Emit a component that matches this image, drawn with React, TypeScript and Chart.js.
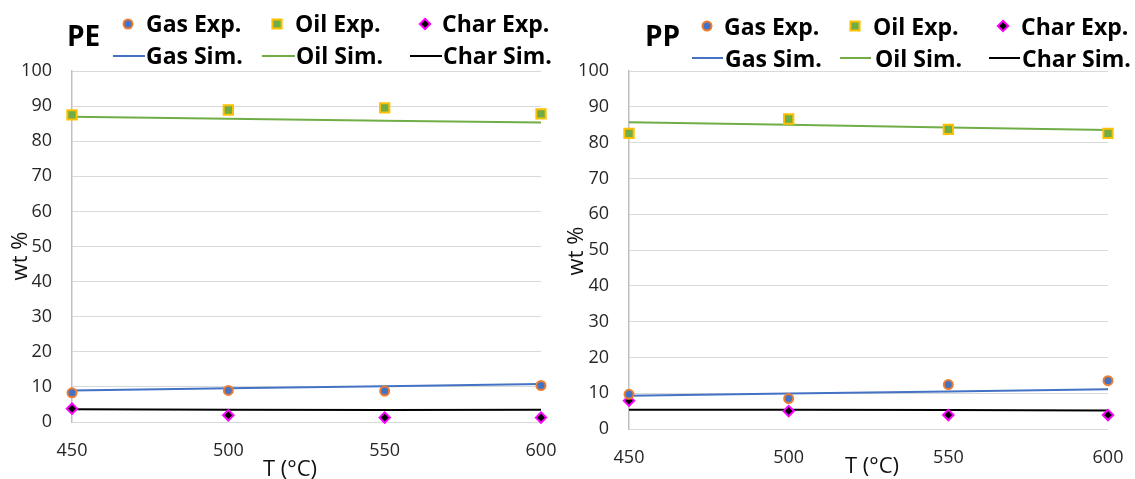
import React, { useEffect, useRef } from "react";
import { Chart, registerables } from "chart.js";
Chart.register(...registerables);

// ---- data ----
const temps = [450, 500, 550, 600];
const yMin = 0;
const yMax = 100;
const yStep = 10;
const xStep = 50;
const legendLabels = ["Gas Exp.", "Oil Exp.", "Char Exp.", "Gas Sim.", "Oil Sim.", "Char Sim."];

const peGasExp = [8.3, 9.0, 8.8, 10.4];
const peOilExp = [87.5, 88.9, 89.5, 87.8];
const peCharExp = [3.8, 1.9, 1.25, 1.25];
const peGasSim = [9.0, 9.6, 10.2, 10.8];
const peOilSim = [87.0, 86.4, 85.8, 85.3];
const peCharSim = [3.6, 3.5, 3.4, 3.5];

const ppGasExp = [9.7, 8.5, 12.4, 13.5];
const ppOilExp = [82.6, 86.6, 83.7, 82.6];
const ppCharExp = [7.9, 5.0, 3.9, 3.9];
const ppGasSim = [9.3, 9.9, 10.5, 11.1];
const ppOilSim = [85.7, 85.0, 84.2, 83.5];
const ppCharSim = [5.4, 5.4, 5.3, 5.2];

// ---- styles ----
const BLUE = "#4472C4";
const ORANGE = "#ED7D31";
const GREEN = "#70AD47";
const GOLD = "#FFC000";
const MAGENTA = "#FF00FF";
const BLACK = "#000000";
const FONT = '"Open Sans", sans-serif';
const TICK_COLOR = "#262626";

type Spec = {
  title: string;
  canvasLeft: number;
  width: number;
  area: { left: number; right: number; top: number; bottom: number };
  gasExp: number[]; oilExp: number[]; charExp: number[];
  gasSim: number[]; oilSim: number[]; charSim: number[];
  titlePos: [number, number];
  row1: { y: number; base: number; markers: number[]; texts: number[] };
  row2: { y: number; base: number; lines: [number, number][]; texts: number[] };
  yTitle: [number, number];
  xTitle: [number, number];
};

const H = 479;

const SPECS: Spec[] = [
  {
    title: "PE",
    canvasLeft: 0,
    width: 565,
    area: { left: 72, right: 541, top: 71, bottom: 422 },
    gasExp: peGasExp, oilExp: peOilExp, charExp: peCharExp,
    gasSim: peGasSim, oilSim: peOilSim, charSim: peCharSim,
    titlePos: [67, 46],
    row1: { y: 24, base: 32, markers: [128, 277, 425], texts: [146, 295, 442] },
    row2: { y: 56, base: 64, lines: [[113, 145], [262, 295], [410, 442]], texts: [146, 296, 443] },
    yTitle: [21, 256],
    xTitle: [290, 470],
  },
  {
    title: "PP",
    canvasLeft: 565,
    width: 570,
    area: { left: 64, right: 543, top: 71, bottom: 429 },
    gasExp: ppGasExp, oilExp: ppOilExp, charExp: ppCharExp,
    gasSim: ppGasSim, oilSim: ppOilSim, charSim: ppCharSim,
    titlePos: [80, 46],
    row1: { y: 26, base: 35, markers: [142, 290, 438], texts: [159, 308, 456] },
    row2: { y: 58, base: 67, lines: [[127, 158], [275, 306], [424, 455]], texts: [160, 310, 457] },
    yTitle: [12, 251],
    xTitle: [307, 467],
  },
];

const toXY = (vals: number[]) => vals.map((v, i) => ({ x: temps[i], y: v }));

function drawCircle(ctx: CanvasRenderingContext2D, x: number, y: number) {
  ctx.beginPath();
  ctx.arc(x, y, 4.5, 0, Math.PI * 2);
  ctx.fillStyle = BLUE;
  ctx.fill();
  ctx.lineWidth = 2;
  ctx.strokeStyle = ORANGE;
  ctx.stroke();
}
function drawSquare(ctx: CanvasRenderingContext2D, x: number, y: number) {
  const s = 4.6;
  ctx.beginPath();
  ctx.rect(x - s, y - s, 2 * s, 2 * s);
  ctx.fillStyle = GREEN;
  ctx.fill();
  ctx.lineWidth = 2;
  ctx.strokeStyle = GOLD;
  ctx.stroke();
}
function drawDiamond(ctx: CanvasRenderingContext2D, x: number, y: number) {
  const r = 5.2;
  ctx.beginPath();
  ctx.moveTo(x, y - r);
  ctx.lineTo(x + r, y);
  ctx.lineTo(x, y + r);
  ctx.lineTo(x - r, y);
  ctx.closePath();
  ctx.fillStyle = BLACK;
  ctx.fill();
  ctx.lineWidth = 2;
  ctx.strokeStyle = MAGENTA;
  ctx.stroke();
}

function overlay(spec: Spec) {
  return {
    id: "overlay" + spec.title,
    afterDraw(chart: any) {
      const ctx: CanvasRenderingContext2D = chart.ctx;
      ctx.save();
      ctx.textBaseline = "alphabetic";
      ctx.textAlign = "left";
      ctx.fillStyle = "#000";
      ctx.font = `bold 28px ${FONT}`;
      ctx.fillText(spec.title, spec.titlePos[0], spec.titlePos[1]);

      const markerFns = [drawCircle, drawSquare, drawDiamond];
      ctx.font = `bold 23px ${FONT}`;
      for (let i = 0; i < 3; i++) {
        markerFns[i](ctx, spec.row1.markers[i], spec.row1.y);
        ctx.fillStyle = "#000";
        ctx.fillText(legendLabels[i], spec.row1.texts[i], spec.row1.base);
      }
      const lineColors = [BLUE, GREEN, BLACK];
      for (let i = 0; i < 3; i++) {
        const [a, b] = spec.row2.lines[i];
        ctx.beginPath();
        ctx.moveTo(a, spec.row2.y);
        ctx.lineTo(b, spec.row2.y);
        ctx.strokeStyle = lineColors[i];
        ctx.lineWidth = 2;
        ctx.stroke();
        ctx.fillStyle = "#000";
        ctx.fillText(legendLabels[i + 3], spec.row2.texts[i], spec.row2.base);
      }

      ctx.font = `22px ${FONT}`;
      ctx.fillStyle = "#111";
      ctx.textAlign = "center";
      ctx.textBaseline = "middle";
      ctx.fillText("T (°C)", spec.xTitle[0], spec.xTitle[1]);
      ctx.save();
      ctx.translate(spec.yTitle[0], spec.yTitle[1]);
      ctx.rotate(-Math.PI / 2);
      ctx.fillText("wt %", 0, 0);
      ctx.restore();
      ctx.restore();
    },
  };
}

function makeConfig(spec: Spec): any {
  const expCommon = { showLine: false, clip: false, pointBorderWidth: 2, pointHoverRadius: 0 };
  const simCommon = { showLine: true, clip: false, pointRadius: 0, borderWidth: 2, fill: false, tension: 0 };
  return {
    type: "scatter",
    data: {
      datasets: [
        { label: legendLabels[0], data: toXY(spec.gasExp), ...expCommon, pointStyle: "circle", pointRadius: 4.5, pointBackgroundColor: BLUE, pointBorderColor: ORANGE },
        { label: legendLabels[1], data: toXY(spec.oilExp), ...expCommon, pointStyle: "rect", pointRadius: 6.6, pointBackgroundColor: GREEN, pointBorderColor: GOLD },
        { label: legendLabels[2], data: toXY(spec.charExp), ...expCommon, pointStyle: "rectRot", pointRadius: 5.2, pointBackgroundColor: BLACK, pointBorderColor: MAGENTA },
        { label: legendLabels[3], data: toXY(spec.gasSim), ...simCommon, borderColor: BLUE },
        { label: legendLabels[4], data: toXY(spec.oilSim), ...simCommon, borderColor: GREEN },
        { label: legendLabels[5], data: toXY(spec.charSim), ...simCommon, borderColor: BLACK },
      ],
    },
    options: {
      animation: false,
      responsive: false,
      maintainAspectRatio: false,
      events: [],
      layout: {
        padding: { left: 0, top: spec.area.top, right: spec.width - spec.area.right, bottom: 0 },
      },
      plugins: { legend: { display: false }, tooltip: { enabled: false }, title: { display: false } },
      scales: {
        x: {
          type: "linear",
          min: temps[0],
          max: temps[temps.length - 1],
          afterFit: (s: any) => {
            s.height = H - spec.area.bottom;
            s.paddingLeft = 0;
            s.paddingRight = 0;
          },
          ticks: { stepSize: xStep, padding: 18, color: TICK_COLOR, font: { family: FONT, size: 18 } },
          grid: { display: false, drawTicks: false },
          border: { display: false },
        },
        y: {
          min: yMin,
          max: yMax,
          afterFit: (s: any) => {
            s.width = spec.area.left;
            s.paddingTop = 0;
            s.paddingBottom = 0;
          },
          ticks: { stepSize: yStep, padding: 20, color: TICK_COLOR, font: { family: FONT, size: 18 } },
          grid: { color: "#d9d9d9", lineWidth: 1, drawTicks: false },
          border: { display: true, color: "#bfbfbf", width: 1.5 },
        },
      },
    },
    plugins: [overlay(spec)],
  };
}

function Panel({ spec }: { spec: Spec }) {
  const ref = useRef<HTMLCanvasElement | null>(null);
  useEffect(() => {
    if (!ref.current) return;
    const chart = new Chart(ref.current, makeConfig(spec));
    return () => chart.destroy();
  }, [spec]);
  return (
    <canvas
      ref={ref}
      width={spec.width}
      height={H}
      style={{ position: "absolute", left: spec.canvasLeft, top: 0, width: spec.width, height: H }}
    />
  );
}

export default function App() {
  return (
    <div style={{ position: "absolute", left: 0, top: 0, width: 1135, height: H, background: "#fff" }}>
      {SPECS.map((s) => (
        <Panel key={s.title} spec={s} />
      ))}
    </div>
  );
}
